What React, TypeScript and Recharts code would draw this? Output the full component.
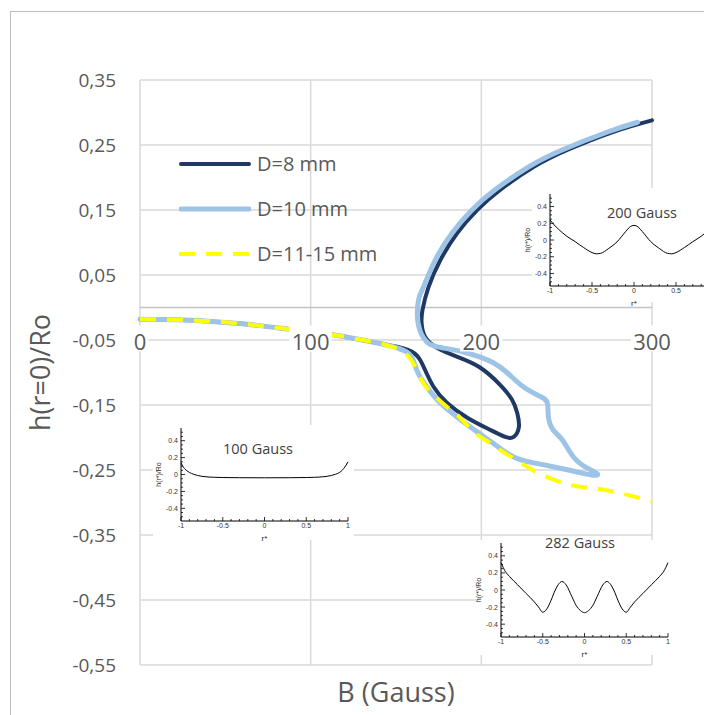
import { LineChart, Line, XAxis, YAxis, CartesianGrid, Legend, ReferenceLine } from 'recharts'

const FONT = '"Open Sans", sans-serif'
const TEXT = '#595959'

// main chart axes
const X_TICKS = [0, 100, 200, 300]
const Y_TICKS = [0.35, 0.25, 0.15, 0.05, -0.05, -0.15, -0.25, -0.35, -0.45, -0.55]
const Y_MIN = -0.55
const Y_MAX = 0.35

// D=8 mm (loops back on itself)
const D8_B = [0, 20, 40, 60, 80, 100, 120, 140, 150, 157, 161, 164, 167, 172, 180, 192, 205, 214, 219, 222, 221, 218, 211, 199, 186, 174, 167, 165, 165.5, 169, 176, 186, 197.5, 211, 230.5, 250, 277, 300]
const D8_H = [-0.018, -0.019, -0.021, -0.025, -0.031, -0.037, -0.045, -0.055, -0.06, -0.065, -0.071, -0.08, -0.096, -0.122, -0.147, -0.17, -0.188, -0.199, -0.199, -0.184, -0.162, -0.142, -0.119, -0.092, -0.076, -0.062, -0.045, -0.024, -0.004, 0.031, 0.073, 0.115, 0.15, 0.181, 0.216, 0.242, 0.27, 0.288]

// D=10 mm
const D10_B = [0, 20, 40, 60, 80, 100, 120, 140, 148, 156, 160, 163, 168, 176, 188, 199, 207, 219, 230.5, 242, 256, 265, 268, 262, 254, 247.5, 242, 239.3, 238.7, 234.6, 224.6, 215, 207, 199, 189, 177, 169, 164, 162.5, 163.5, 166, 173, 183, 194.5, 208, 227.5, 247, 274, 291.5]
const D10_H = [-0.018, -0.019, -0.021, -0.025, -0.031, -0.037, -0.045, -0.055, -0.06, -0.068, -0.081, -0.101, -0.122, -0.147, -0.173, -0.194, -0.209, -0.23, -0.239, -0.245, -0.253, -0.258, -0.256, -0.247, -0.23, -0.204, -0.188, -0.168, -0.147, -0.137, -0.122, -0.1, -0.085, -0.076, -0.068, -0.062, -0.055, -0.035, -0.008, 0.015, 0.031, 0.073, 0.115, 0.15, 0.181, 0.216, 0.242, 0.27, 0.285]

// D=11-15 mm
const D11_B = [0, 20, 40, 60, 80, 100, 120, 140, 147, 154, 160, 166, 173, 180, 187, 195, 203, 211, 223, 236, 252, 266, 282, 300]
const D11_H = [-0.018, -0.019, -0.021, -0.025, -0.031, -0.037, -0.045, -0.055, -0.06, -0.068, -0.085, -0.116, -0.137, -0.153, -0.168, -0.19, -0.205, -0.219, -0.239, -0.258, -0.273, -0.278, -0.286, -0.298]

// inset profiles h(r*)/Ro
const R100 = [-1, -0.97, -0.93, -0.9, -0.85, -0.8, -0.7, -0.6, -0.5, -0.3, 0, 0.3, 0.5, 0.6, 0.7, 0.8, 0.85, 0.9, 0.93, 0.97, 1]
const H100 = [0.14, 0.085, 0.045, 0.025, 0.003, -0.012, -0.027, -0.033, -0.036, -0.038, -0.039, -0.038, -0.036, -0.033, -0.027, -0.012, 0.003, 0.025, 0.05, 0.1, 0.15]

const R200 = [-1, -0.95, -0.9, -0.8, -0.7, -0.6, -0.5, -0.45, -0.4, -0.3, -0.2, -0.1, -0.05, 0, 0.05, 0.1, 0.2, 0.3, 0.4, 0.45, 0.5, 0.6, 0.7, 0.8, 0.9, 0.95, 1]
const H200 = [0.24, 0.18, 0.13, 0.045, -0.02, -0.09, -0.15, -0.165, -0.16, -0.1, -0.02, 0.1, 0.155, 0.175, 0.155, 0.1, -0.02, -0.1, -0.16, -0.165, -0.15, -0.09, -0.02, 0.045, 0.13, 0.18, 0.24]

const R282 = [-1, -0.95, -0.9, -0.8, -0.7, -0.6, -0.55, -0.5, -0.45, -0.4, -0.35, -0.3, -0.27, -0.22, -0.15, -0.1, -0.05, 0, 0.05, 0.1, 0.15, 0.22, 0.27, 0.3, 0.35, 0.4, 0.45, 0.5, 0.55, 0.6, 0.7, 0.8, 0.9, 0.95, 1]
const H282 = [0.32, 0.22, 0.16, 0.06, -0.04, -0.14, -0.2, -0.26, -0.22, -0.12, 0, 0.08, 0.1, 0.06, -0.08, -0.18, -0.24, -0.265, -0.24, -0.18, -0.08, 0.06, 0.1, 0.08, 0, -0.12, -0.22, -0.26, -0.2, -0.14, -0.04, 0.06, 0.16, 0.22, 0.32]

const INSET_X_TICKS = [-1, -0.9, -0.8, -0.7, -0.6, -0.5, -0.4, -0.3, -0.2, -0.1, 0, 0.1, 0.2, 0.3, 0.4, 0.5, 0.6, 0.7, 0.8, 0.9, 1]
const INSET_X_MAJOR = [-1, -0.5, 0, 0.5, 1]
const INSET_Y_TICKS = [-0.5, -0.45, -0.4, -0.35, -0.3, -0.25, -0.2, -0.15, -0.1, -0.05, 0, 0.05, 0.1, 0.15, 0.2, 0.25, 0.3, 0.35, 0.4, 0.45, 0.5]
const INSET_Y_MAJOR = [-0.4, -0.2, 0, 0.2, 0.4]

const SERIES = [
  { name: 'D=8 mm', b: D8_B, h: D8_H, color: '#1f3864', width: 4, dash: undefined },
  { name: 'D=10 mm', b: D10_B, h: D10_H, color: '#9dc3e6', width: 5, dash: undefined },
  { name: 'D=11-15 mm', b: D11_B, h: D11_H, color: '#ffff00', width: 4, dash: '16 11' },
]

const W = 704
const H = 707
const PLOT_H = 585
const ZERO_FROM_BOTTOM = PLOT_H * (0 - Y_MIN) / (Y_MAX - Y_MIN)

const fmtComma = (v: number) => v.toFixed(2).replace('.', ',')
const isIn = (arr: number[], v: number) => arr.some(a => Math.abs(a - v) < 1e-6)

function MainXTick(props: any) {
  const { x, y, payload } = props
  const label = String(payload.value)
  const cy = y - ZERO_FROM_BOTTOM + 33
  const w = label.length * 12.8 + 4
  return (
    <g>
      <rect x={x - w / 2} y={cy - 15} width={w} height={26} fill="#fff" />
      <text x={x} y={cy} textAnchor="middle" dominantBaseline="central" fill={TEXT} fontSize={22} fontFamily={FONT}>{label}</text>
    </g>
  )
}

function renderLegend(props: any) {
  const items: any[] = props.payload ?? []
  return (
    <div style={{ fontFamily: FONT }}>
      {SERIES.map(s => {
        const entry = items.find(e => e.value === s.name)
        if (!entry) return null
        return (
          <div key={s.name} style={{ display: 'flex', alignItems: 'center', height: 45 }}>
            <svg width={72} height={10}>
              <line x1={s.dash ? 0 : 2} y1={5} x2={s.dash ? 72 : 70} y2={5} stroke={entry.color} strokeWidth={s.width} strokeDasharray={s.dash} strokeLinecap={s.dash ? 'butt' : 'round'} />
            </svg>
            <span style={{ marginLeft: 6, fontSize: 20, color: TEXT, whiteSpace: 'nowrap' }}>{entry.value}</span>
          </div>
        )
      })}
    </div>
  )
}

function makeInsetXTick(maxLabel: number) {
  return function InsetXTick(props: any) {
    const { x, y, payload } = props
    const v = payload.value
    const major = isIn(INSET_X_MAJOR, v)
    return (
      <g>
        <line x1={x} x2={x} y1={y} y2={y - (major ? 4 : 2)} stroke="#000" strokeWidth={0.8} />
        {major && v <= maxLabel && <text x={x} y={y + 7} textAnchor="middle" fontSize={7} fill="#333" fontFamily="Liberation Sans, sans-serif">{String(v)}</text>}
      </g>
    )
  }
}

function InsetYTick(props: any) {
  const { x, y, payload } = props
  const v = payload.value
  const major = isIn(INSET_Y_MAJOR, v)
  return (
    <g>
      <line x1={x} x2={x + (major ? 4 : 2)} y1={y} y2={y} stroke="#000" strokeWidth={0.8} />
      {major && <text x={x - 3} y={y} textAnchor="end" dominantBaseline="central" fontSize={7} fill="#333" fontFamily="Liberation Sans, sans-serif">{v === 0 ? '0' : v.toFixed(1)}</text>}
    </g>
  )
}

interface InsetProps {
  title: string
  r: number[]
  h: number[]
  plot: { left: number; top: number; width: number; height: number }
  box: { left: number; top: number; width: number; height: number }
  titleAt: { x: number; y: number }
  maxLabel?: number
}

function Inset({ title, r, h, plot, box, titleAt, maxLabel = 1 }: InsetProps) {
  const data = r.map((rv, i) => ({ r: rv, h: h[i] }))
  const padL = 34
  const padT = 6
  const padR = 6
  const padB = 30
  return (
    <>
      <div style={{ position: 'absolute', left: box.left, top: box.top, width: box.width, height: box.height, background: '#fff' }} />
      <div style={{ position: 'absolute', left: plot.left - padL, top: plot.top - padT }}>
        <LineChart width={plot.width + padL + padR} height={plot.height + padT + padB} data={data} margin={{ top: padT, right: padR, bottom: 0, left: 0 }}>
          <XAxis type="number" dataKey="r" domain={[-1, 1]} ticks={INSET_X_TICKS} interval={0} height={padB} tickSize={0} tickMargin={0} tickLine={false} axisLine={{ stroke: '#000', strokeWidth: 1 }} tick={makeInsetXTick(maxLabel)}
            label={{ value: 'r*', position: 'center', dy: 2, fontSize: 8, fill: '#222', fontFamily: 'Liberation Sans, sans-serif' }} />
          <YAxis type="number" domain={[-0.55, 0.55]} ticks={INSET_Y_TICKS} interval={0} width={padL} tickSize={0} tickMargin={0} tickLine={false} axisLine={{ stroke: '#000', strokeWidth: 1 }} tick={InsetYTick}
            label={{ value: 'h(r*)/Ro', angle: -90, position: 'center', dx: -5, fontSize: 7, fill: '#222', fontFamily: 'Liberation Sans, sans-serif' }} />
          <Line type="monotone" dataKey="h" stroke="#000" strokeWidth={1} dot={false} activeDot={false} isAnimationActive={false} />
        </LineChart>
      </div>
      <div style={{ position: 'absolute', left: titleAt.x, top: titleAt.y, transform: 'translate(-50%, -50%)', fontFamily: FONT, fontSize: 14.5, color: '#404040', whiteSpace: 'nowrap' }}>{title}</div>
    </>
  )
}

export default function App() {
  return (
    <div style={{ position: 'relative', width: W, height: H, overflow: 'hidden', background: '#fff' }}>
      <div style={{ position: 'absolute', left: 2, top: 3, width: 760, height: 760, border: '1.5px solid #bdbdbd' }} />
      <div style={{ position: 'absolute', left: 0, top: 0 }}>
        <LineChart width={W} height={H} margin={{ top: 72, right: 60, bottom: 20, left: 72 }}>
          <CartesianGrid stroke="#d9d9d9" strokeWidth={1.5} />
          <YAxis type="number" domain={[Y_MIN, Y_MAX]} ticks={Y_TICKS} interval={0} width={60} axisLine={false} tickLine={false} tickSize={0} tickMargin={24}
            tick={{ fill: TEXT, fontSize: 19, fontFamily: FONT }} tickFormatter={fmtComma}
            label={{ value: 'h(r=0)/Ro', angle: -90, position: 'center', dx: -70, fill: TEXT, fontSize: 27, fontFamily: FONT }} />
          <ReferenceLine y={0} stroke="#c4c4c4" strokeWidth={1.5} />
          {SERIES.map(s => (
            <Line key={s.name} name={s.name} data={s.b.map((b, i) => ({ b, h: s.h[i] }))} dataKey="h" type="natural"
              stroke={s.color} strokeWidth={s.width} strokeDasharray={s.dash} strokeLinecap={s.dash ? 'butt' : 'round'} strokeLinejoin="round"
              dot={false} activeDot={false} isAnimationActive={false} />
          ))}
          <XAxis type="number" dataKey="b" domain={[0, 300]} ticks={X_TICKS} interval={0} height={30} axisLine={false} tickLine={false} tickSize={0} tickMargin={0}
            tick={MainXTick}
            label={{ value: 'B (Gauss)', position: 'center', dy: 12, fill: TEXT, fontSize: 27, fontFamily: FONT }} />
          <Legend layout="vertical" align="center" verticalAlign="middle" content={renderLegend}
            wrapperStyle={{ left: 171, top: 133, width: 'auto', height: 'auto' }} />
        </LineChart>
      </div>
      <Inset title="100 Gauss" r={R100} h={H100}
        plot={{ left: 173, top: 420, width: 167, height: 93 }}
        box={{ left: 145, top: 417, width: 201, height: 115 }}
        titleAt={{ x: 250, y: 440 }} />
      <Inset title="200 Gauss" r={R200} h={H200}
        plot={{ left: 542, top: 186, width: 168, height: 92 }}
        box={{ left: 524, top: 180, width: 200, height: 114 }}
        titleAt={{ x: 634, y: 204 }} maxLabel={0.5} />
      <Inset title="282 Gauss" r={R282} h={H282}
        plot={{ left: 493, top: 535, width: 167, height: 94 }}
        box={{ left: 469, top: 532, width: 213, height: 115 }}
        titleAt={{ x: 572, y: 534 }} />
    </div>
  )
}
